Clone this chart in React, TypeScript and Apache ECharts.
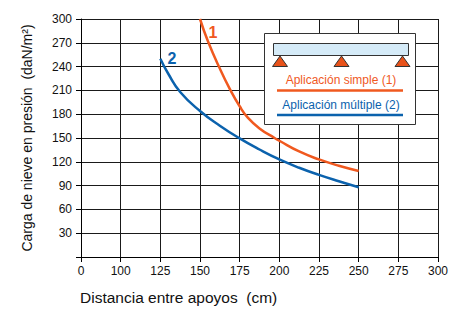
import React, { useEffect, useRef } from "react";
import * as echarts from "echarts";

const xTicks = [75, 100, 125, 150, 175, 200, 225, 250, 275, 300];
const yMax = 300;
const simpleX = [150, 155, 162.5, 169, 175, 180, 187.5, 197, 200, 212.5, 225, 237.5, 250];
const simpleY = [300, 272, 237.5, 211, 190, 176, 162, 150, 146.5, 133, 123, 115, 108.5];
const multipleX = [125, 130, 137.5, 150, 162.5, 175, 187.5, 200, 212.5, 225, 237.5, 250];
const multipleY = [250, 231, 208, 184, 165.5, 149.5, 135.5, 123, 112.5, 103.5, 95.5, 88];
const legendLabels = ["Aplicación simple (1)", "Aplicación múltiple (2)"];
const xTitle = "Distancia entre apoyos  (cm)";
const yTitle = "Carga de nieve en presión  (daN/m²)";

const ORANGE = "#f0591f";
const BLUE = "#0b62ad";
const FONT = "Liberation Sans, Arial, sans-serif";

export default function App() {
  const ref = useRef<HTMLDivElement>(null);
  useEffect(() => {
    if (!ref.current) return;
    const chart = echarts.init(ref.current, null, { renderer: "svg" });
    const zip = (xs: number[], ys: number[]) => xs.map((x, i) => [x, ys[i]]);
    const Z = 100;
    chart.setOption({
      animation: false,
      backgroundColor: "#fff",
      grid: { left: 81, right: 21, top: 19, bottom: 52 },
      xAxis: {
        type: "value",
        min: xTicks[0],
        max: xTicks[xTicks.length - 1],
        interval: 25,
        axisLine: { lineStyle: { color: "#000", width: 1 } },
        axisTick: { show: true, length: 5, lineStyle: { color: "#000" } },
        axisLabel: {
          color: "#111",
          fontSize: 12,
          fontFamily: FONT,
          margin: 8,
          formatter: (v: number) => (v === xTicks[0] ? "0" : String(v)),
        },
        splitLine: { show: true, lineStyle: { color: "#1a1a1a", width: 1 } },
      },
      yAxis: {
        type: "value",
        min: 0,
        max: yMax,
        interval: 30,
        axisLine: { show: true, lineStyle: { color: "#000", width: 1 } },
        axisTick: { show: true, length: 5, lineStyle: { color: "#000" } },
        axisLabel: {
          color: "#111",
          fontSize: 12,
          fontFamily: FONT,
          margin: 9,
          formatter: (v: number) => (v === 0 ? "" : String(v)),
        },
        splitLine: { show: true, lineStyle: { color: "#1a1a1a", width: 1 } },
      },
      series: [
        {
          type: "line",
          name: legendLabels[0],
          data: zip(simpleX, simpleY),
          smooth: 0.5,
          showSymbol: false,
          lineStyle: { color: ORANGE, width: 2.5 },
          z: 5,
        },
        {
          type: "line",
          name: legendLabels[1],
          data: zip(multipleX, multipleY),
          smooth: 0.5,
          showSymbol: false,
          lineStyle: { color: BLUE, width: 2.5 },
          z: 5,
        },
      ],
      graphic: [
        {
          type: "text",
          x: 213,
          y: 32,
          z: Z,
          style: { text: "1", fill: ORANGE, font: `bold 16px ${FONT}`, align: "center", verticalAlign: "middle" },
        },
        {
          type: "text",
          x: 172,
          y: 58,
          z: Z,
          style: { text: "2", fill: BLUE, font: `bold 16px ${FONT}`, align: "center", verticalAlign: "middle" },
        },
        {
          type: "rect",
          z: Z,
          shape: { x: 264.5, y: 33.5, width: 151, height: 91 },
          style: { fill: "#fff", stroke: "#333", lineWidth: 1 },
        },
        {
          type: "rect",
          z: Z + 1,
          shape: { x: 273.5, y: 43.5, width: 135, height: 12 },
          style: { fill: "#d5ebf8", stroke: "#333", lineWidth: 1 },
        },
        ...[280, 341.5, 402.5].map((cx) => ({
          type: "polygon",
          z: Z + 1,
          shape: { points: [[cx, 56], [cx - 7.5, 66.5], [cx + 7.5, 66.5]] },
          style: { fill: "#e8521a", stroke: "#333", lineWidth: 1 },
        })),
        {
          type: "text",
          x: 341,
          y: 80,
          z: Z + 1,
          style: { text: legendLabels[0], fill: ORANGE, font: `12px ${FONT}`, align: "center", verticalAlign: "middle" },
        },
        {
          type: "line",
          z: Z + 1,
          shape: { x1: 277, y1: 90.5, x2: 403, y2: 90.5 },
          style: { stroke: ORANGE, lineWidth: 2.5 },
        },
        {
          type: "text",
          x: 341,
          y: 104.5,
          z: Z + 1,
          style: { text: legendLabels[1], fill: BLUE, font: `12px ${FONT}`, align: "center", verticalAlign: "middle" },
        },
        {
          type: "line",
          z: Z + 1,
          shape: { x1: 277, y1: 115, x2: 403, y2: 115 },
          style: { stroke: BLUE, lineWidth: 2.5 },
        },
        {
          type: "text",
          x: 80,
          y: 297,
          z: Z,
          style: { text: xTitle, fill: "#111", font: `15.5px ${FONT}`, align: "left", verticalAlign: "middle" },
        },
        {
          type: "text",
          x: 27,
          y: 138,
          z: Z,
          rotation: Math.PI / 2,
          style: { text: yTitle, fill: "#111", font: `14px ${FONT}`, align: "center", verticalAlign: "middle" },
        },
      ],
    });
    return () => chart.dispose();
  }, []);
  return <div ref={ref} style={{ position: "fixed", left: 0, top: 0, width: 459, height: 309 }} />;
}
